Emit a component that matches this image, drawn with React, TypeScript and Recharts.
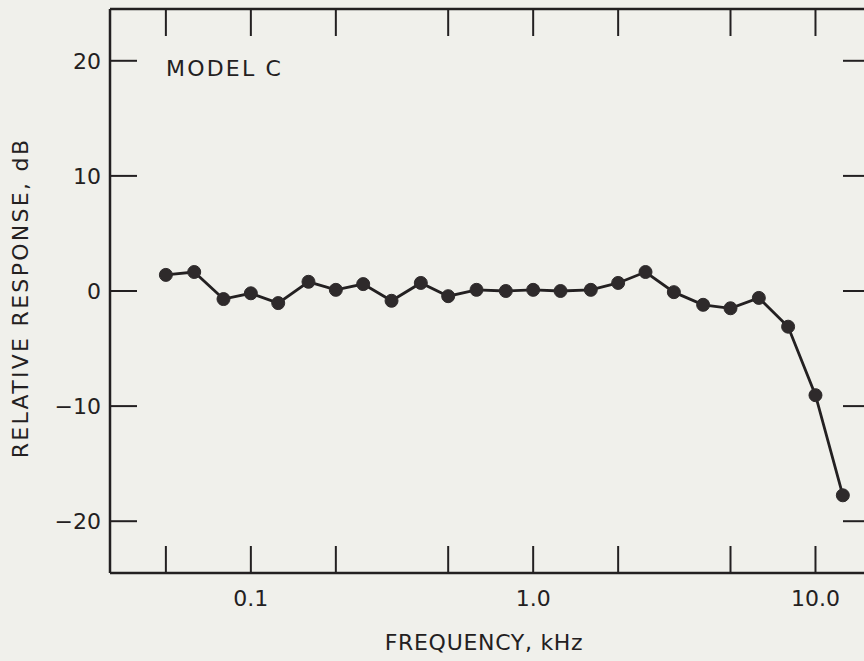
import { LineChart, Line, XAxis, YAxis } from 'recharts'

// 1/3-octave band centres, kHz
const FREQ_KHZ = [0.05, 0.063, 0.08, 0.1, 0.125, 0.16, 0.2, 0.25, 0.315, 0.4, 0.5, 0.63, 0.8,
                  1.0, 1.25, 1.6, 2.0, 2.5, 3.15, 4.0, 5.0, 6.3, 8.0, 10.0, 12.5]
const RESPONSE_DB = [1.4, 1.65, -0.7, -0.2, -1.05, 0.8, 0.1, 0.6, -0.85, 0.7, -0.45, 0.1, 0.0,
                     0.1, 0.0, 0.1, 0.7, 1.65, -0.1, -1.2, -1.5, -0.6, -3.1, -9.05, -17.75]

const X_TICKS = [0.05, 0.1, 0.2, 0.5, 1, 2, 5, 10]
const X_LABELS: Record<string, string> = { '0.1': '0.1', '1': '1.0', '10': '10.0' }
const Y_TICKS = [-20, -10, 0, 10, 20]

const INK = '#232021'
const FONT = '"DejaVu Sans", sans-serif'
const TICK_LEN = 27

const data = FREQ_KHZ.map((f, i) => ({ f, db: RESPONSE_DB[i] }))

function BottomTick({ x, y, payload }: any) {
  const label = X_LABELS[String(payload.value)]
  return (
    <g>
      <line x1={x} x2={x} y1={y} y2={y - TICK_LEN} stroke={INK} strokeWidth={2} />
      {label && (
        <text x={x} y={y + 33} textAnchor="middle" fill={INK} fontSize={22} fontFamily={FONT}>{label}</text>
      )}
    </g>
  )
}

function TopTick({ x, y }: any) {
  return <line x1={x} x2={x} y1={y} y2={y + TICK_LEN} stroke={INK} strokeWidth={2} />
}

function LeftTick({ x, y, payload }: any) {
  const v = payload.value
  const label = v < 0 ? `\u2212${Math.abs(v)}` : String(v)
  return (
    <g>
      <line x1={x} x2={x + TICK_LEN} y1={y} y2={y} stroke={INK} strokeWidth={2} />
      <text x={x - 9} y={y + 8} textAnchor="end" fill={INK} fontSize={22} fontFamily={FONT}>{label}</text>
    </g>
  )
}

function RightTick({ x, y }: any) {
  return <line x1={x} x2={x - TICK_LEN} y1={y} y2={y} stroke={INK} strokeWidth={2} />
}

export default function App() {
  const axisLine = { stroke: INK, strokeWidth: 2.5 }
  const textStyle = { fontFamily: FONT, fontSize: 22, color: INK, lineHeight: 1, whiteSpace: 'nowrap' as const }
  return (
    <div style={{ position: 'fixed', left: 0, top: 0, width: 864, height: 661, overflow: 'hidden', background: '#f0f0eb' }}>
      <LineChart width={900} height={661} data={data} margin={{ top: 0, right: 0, bottom: 0, left: 0 }}>
        <XAxis xAxisId="bottom" dataKey="f" type="number" scale="log" domain={[0.0317, 15.6]} allowDataOverflow
               ticks={X_TICKS} height={88} tickSize={0} tickMargin={0} tickLine={false} axisLine={axisLine}
               tick={<BottomTick />} interval={0} />
        <XAxis xAxisId="top" orientation="top" dataKey="f" type="number" scale="log" domain={[0.0317, 15.6]} allowDataOverflow
               ticks={X_TICKS} height={9} tickSize={0} tickMargin={0} tickLine={false} axisLine={axisLine}
               tick={<TopTick />} interval={0} />
        <YAxis yAxisId="left" type="number" domain={[-24.5, 24.5]} allowDataOverflow ticks={Y_TICKS} width={110}
               tickSize={0} tickMargin={0} tickLine={false} axisLine={axisLine} tick={<LeftTick />} interval={0} />
        <YAxis yAxisId="right" orientation="right" type="number" domain={[-24.5, 24.5]} allowDataOverflow ticks={Y_TICKS}
               width={30} tickSize={0} tickMargin={0} tickLine={false} axisLine={axisLine} tick={<RightTick />} interval={0} />
        <Line xAxisId="bottom" yAxisId="left" dataKey="db" stroke={INK} strokeWidth={2.8}
              dot={{ r: 6.5, fill: '#2e2a2b', stroke: '#2e2a2b', strokeWidth: 1 }} isAnimationActive={false} />
      </LineChart>
      <div style={{ ...textStyle, position: 'absolute', left: 166, top: 58, letterSpacing: 2.2 }}>
        MODEL C
      </div>
      <div style={{ ...textStyle, position: 'absolute', left: 484, top: 643, transform: 'translate(-50%, -50%)', letterSpacing: 0.7 }}>
        FREQUENCY, kHz
      </div>
      <div style={{ ...textStyle, position: 'absolute', left: 21, top: 298, transform: 'translate(-50%, -50%) rotate(-90deg)', letterSpacing: 2.3 }}>
        RELATIVE RESPONSE, dB
      </div>
    </div>
  )
}
